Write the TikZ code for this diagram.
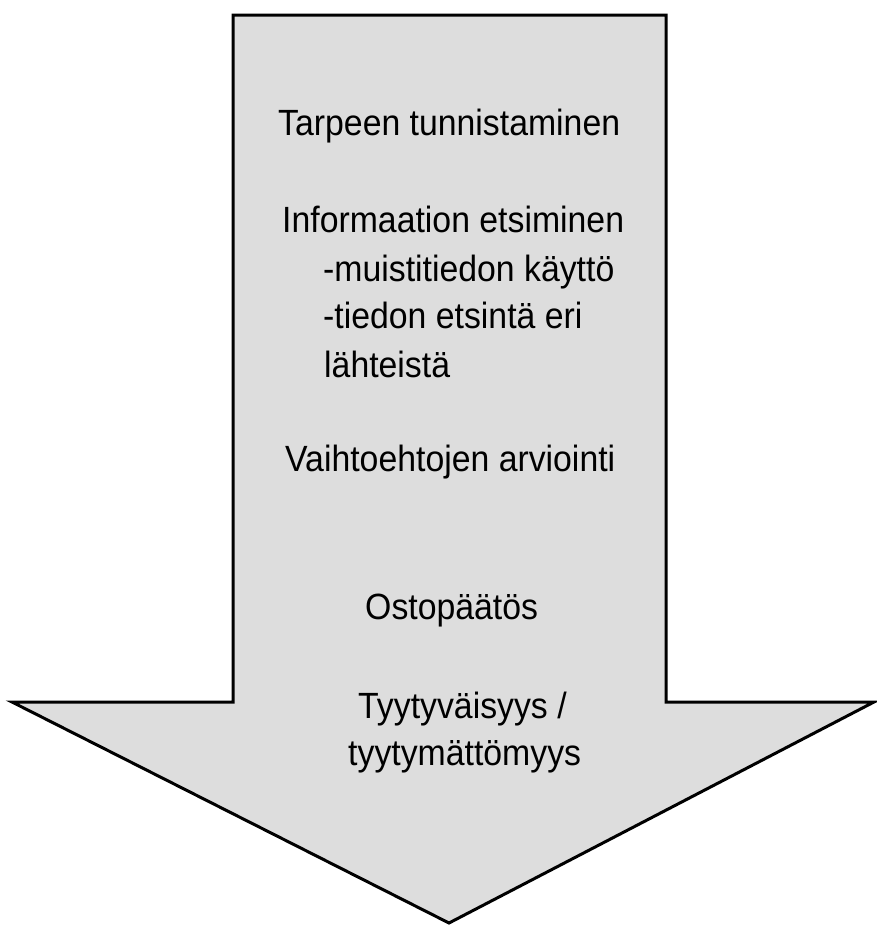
\documentclass[tikz,border=0pt]{standalone}
\usepackage{fontspec}
\setmainfont{Liberation Sans}
\definecolor{arrowfill}{RGB}{221,221,221}
\newcommand{\tallt}[1]{\scalebox{1}[1.08]{#1}}
\tikzset{
  lbl/.style={anchor=base west, inner sep=0pt, font=\fontsize{33.8}{40}\selectfont, text=black},
  bigarrow/.style={draw=black, line width=3pt, fill=arrowfill, line join=miter}
}
\begin{document}
\begin{tikzpicture}[x=1pt,y=-1pt]
\useasboundingbox (0,0) rectangle (877,926);
\coordinate (tl) at (233,15);
\coordinate (tr) at (666,15);
\coordinate (sr) at (666,702);
\coordinate (hr) at (874,702);
\coordinate (tip) at (449,923);
\coordinate (hl) at (12,702);
\coordinate (sl) at (233,702);
\draw[bigarrow] (tl) -- (tr) -- (sr) -- (hr) -- (tip) -- (hl) -- (sl) -- cycle;
\node[lbl] (t1) at (278,135) {\tallt{Tarpeen tunnistaminen}};
\node[lbl] (t2) at (282,232) {\tallt{Informaation etsiminen}};
\node[lbl] (t3) at (323,281) {\tallt{-muistitiedon käyttö}};
\node[lbl] (t4) at (323,328) {\tallt{-tiedon etsintä eri}};
\node[lbl] (t5) at (324,377) {\tallt{lähteistä}};
\node[lbl] (t6) at (285,471) {\tallt{Vaihtoehtojen arviointi}};
\node[lbl] (t7) at (365,619) {\tallt{Ostopäätös}};
\node[lbl] (t8) at (358,718) {\tallt{Tyytyväisyys /}};
\node[lbl] (t9) at (348,765) {\tallt{tyytymättömyys}};
\end{tikzpicture}
\end{document}
